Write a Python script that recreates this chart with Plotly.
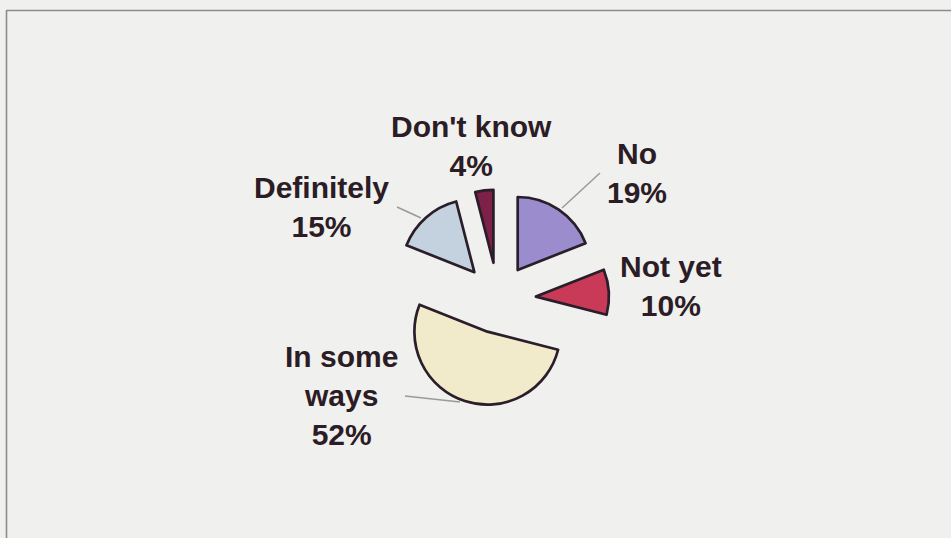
import plotly.graph_objects as go

# Survey answers, clockwise from 12 o'clock
labels = ["No", "Not yet", "In some ways", "Definitely", "Don't know"]
values = [19, 10, 52, 15, 4]
label_lines = ["No", "Not yet", "In some<br>ways", "Definitely", "Don't know"]

colors = ["#9b8ccd", "#c83a57", "#f2ebcb", "#c3d2de", "#7d2149"]
pulls = [0.48, 0.52, 0.47, 0.49, 0.50]

W, H = 951, 538


def px(x):
    return x / W


def py(y):
    return 1 - y / H


# pie box: centre (498, 299), radius 73 after allowing for the largest pull
R = 73
box = R * (2 + 2 * max(pulls))
cx, cy = 498, 299

fig = go.Figure()
fig.add_trace(go.Pie(
    labels=labels,
    values=values,
    sort=False,
    direction="clockwise",
    rotation=0,
    pull=pulls,
    textinfo="none",
    hoverinfo="label+percent",
    showlegend=False,
    marker=dict(colors=colors, line=dict(color="#2a1e2a", width=2.7)),
    domain=dict(
        x=[px(cx - box / 2), px(cx + box / 2)],
        y=[py(cy + box / 2), py(cy - box / 2)],
    ),
))

# label centres (pixels) for each slice
label_pos = [(637, 173), (671, 286), (341, 395), (321, 207), (471, 146)]
total = sum(values)
for text, v, (x, y) in zip(label_lines, values, label_pos):
    fig.add_annotation(
        x=px(x), y=py(y), xref="paper", yref="paper",
        text=f"<b>{text}<br>{round(100 * v / total)}%</b>",
        showarrow=False, xanchor="center", yanchor="middle", align="center",
        font=dict(family="Liberation Sans, Arial, sans-serif", size=30, color="#2b1c25"),
    )

# leader lines from labels to slices
leaders = [((562, 208), (600, 173)), ((397, 207), (421, 218)), ((405, 396), (460, 402))]
for (x0, y0), (x1, y1) in leaders:
    fig.add_shape(type="line", xref="paper", yref="paper",
                  x0=px(x0), y0=py(y0), x1=px(x1), y1=py(y1),
                  line=dict(color="#9a9a9a", width=1.5))

# chart frame: top and left edges
fig.add_shape(type="line", xref="paper", yref="paper",
              x0=px(6), y0=py(10.5), x1=1, y1=py(10.5),
              line=dict(color="#8c8c8c", width=1.6))
fig.add_shape(type="line", xref="paper", yref="paper",
              x0=px(6.5), y0=py(10.5), x1=px(6.5), y1=0,
              line=dict(color="#8c8c8c", width=1.6))

fig.update_layout(
    width=W, height=H,
    margin=dict(l=0, r=0, t=0, b=0),
    paper_bgcolor="#f0f0ee",
    plot_bgcolor="#f0f0ee",
)

fig.write_html("out.html")
